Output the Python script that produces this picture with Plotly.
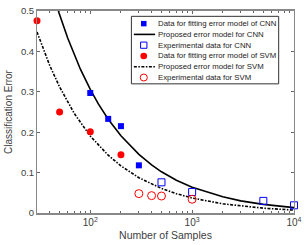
import plotly.graph_objects as go

# ---- data ----
cnn_fit_n = [100, 150, 200, 300]
cnn_fit_err = [0.297, 0.233, 0.215, 0.118]

cnn_exp_n = [500, 1000, 5000, 10000]
cnn_exp_err = [0.076, 0.052, 0.030, 0.019]

svm_fit_n = [30, 50, 100, 200]
svm_fit_err = [0.476, 0.250, 0.201, 0.144]

svm_exp_n = [300, 400, 500, 1000]
svm_exp_err = [0.048, 0.043, 0.042, 0.034]

cnn_model_n = [48.6, 60, 80, 100, 120, 150, 200, 300, 400, 500, 700, 1000, 2000, 3000, 5000, 7000, 10000]
cnn_model_err = [0.500, 0.433, 0.356, 0.306, 0.270, 0.232, 0.191, 0.145, 0.119, 0.102, 0.081, 0.064, 0.040, 0.030, 0.0214, 0.0170, 0.0134]

svm_model_n = [30, 40, 50, 70, 100, 150, 200, 300, 500, 700, 1000, 2000, 5000, 10000]
svm_model_err = [0.448, 0.365, 0.312, 0.2455, 0.1905, 0.143, 0.1165, 0.0873, 0.0608, 0.0479, 0.0371, 0.0227, 0.0119, 0.0072]

legend_labels = [
    "Data for fitting error model of CNN",
    "Proposed error model for CNN",
    "Experimental data for CNN",
    "Data for fitting error model of SVM",
    "Proposed error model for SVM",
    "Experimental data for SVM",
]

y_tick_vals = [0, 0.1, 0.2, 0.3, 0.4, 0.5]

BLUE = "#0000FF"
RED = "#FF0000"
FONT = "Liberation Sans, Arial, sans-serif"
DASH = "3px,1.5px,1.5px,1.5px"

fig = go.Figure()
fig.add_trace(go.Scatter(x=cnn_model_n, y=cnn_model_err, mode="lines",
                         line=dict(color="black", width=1.6), showlegend=False))
fig.add_trace(go.Scatter(x=svm_model_n, y=svm_model_err, mode="lines",
                         line=dict(color="black", width=1.6, dash=DASH), showlegend=False))
fig.add_trace(go.Scatter(x=cnn_fit_n, y=cnn_fit_err, mode="markers", cliponaxis=False,
                         marker=dict(symbol="square", size=6, color=BLUE), showlegend=False))
fig.add_trace(go.Scatter(x=cnn_exp_n, y=cnn_exp_err, mode="markers", cliponaxis=False,
                         marker=dict(symbol="square-open", size=7, color=BLUE, line=dict(width=1)),
                         showlegend=False))
fig.add_trace(go.Scatter(x=svm_fit_n, y=svm_fit_err, mode="markers", cliponaxis=False,
                         marker=dict(symbol="circle", size=7, color=RED), showlegend=False))
fig.add_trace(go.Scatter(x=svm_exp_n, y=svm_exp_err, mode="markers", cliponaxis=False,
                         marker=dict(symbol="circle-open", size=8, color=RED, line=dict(width=1)),
                         showlegend=False))

# ---- custom compact legend (MATLAB style) ----
L, R, T, B = 37, 297, 5, 213
W, H = R - L, B - T


def px(x):
    return (x - L) / W


def py(y):
    return (B - y) / H


shapes = [dict(type="rect", xref="paper", yref="paper",
               x0=px(132.5), x1=px(281.5), y0=py(80), y1=py(10.5),
               line=dict(color="#333333", width=1), fillcolor="white", layer="above")]
annotations = []
row0, dy = 18, 11.1
sym_x = 145
for i, lab in enumerate(legend_labels):
    yc = row0 + dy * i
    annotations.append(dict(x=px(157.5), y=py(yc), xref="paper", yref="paper",
                            text=lab, showarrow=False, xanchor="left", yanchor="middle",
                            font=dict(family=FONT, size=7.8, color="#222222")))
    if i == 0:
        shapes.append(dict(type="rect", xref="paper", yref="paper", layer="above",
                           x0=px(sym_x - 2.8), x1=px(sym_x + 2.8), y0=py(yc + 2.8), y1=py(yc - 2.8),
                           fillcolor=BLUE, line=dict(width=0)))
    elif i == 2:
        shapes.append(dict(type="rect", xref="paper", yref="paper", layer="above",
                           x0=px(sym_x - 3.2), x1=px(sym_x + 3.2), y0=py(yc + 3.2), y1=py(yc - 3.2),
                           fillcolor="rgba(0,0,0,0)", line=dict(color=BLUE, width=1)))
    elif i == 3:
        shapes.append(dict(type="circle", xref="paper", yref="paper", layer="above",
                           x0=px(sym_x - 3.4), x1=px(sym_x + 3.4), y0=py(yc + 3.4), y1=py(yc - 3.4),
                           fillcolor=RED, line=dict(width=0)))
    elif i == 5:
        shapes.append(dict(type="circle", xref="paper", yref="paper", layer="above",
                           x0=px(sym_x - 3.6), x1=px(sym_x + 3.6), y0=py(yc + 3.6), y1=py(yc - 3.6),
                           fillcolor="rgba(0,0,0,0)", line=dict(color=RED, width=1)))
    else:
        shapes.append(dict(type="line", xref="paper", yref="paper", layer="above",
                           x0=px(135), x1=px(156.5), y0=py(yc), y1=py(yc),
                           line=dict(color="black", width=1.6,
                                     dash="solid" if i == 1 else DASH)))

fig.update_layout(
    width=307, height=245,
    margin=dict(l=L, r=307 - R, t=T, b=245 - B),
    paper_bgcolor="white", plot_bgcolor="white",
    font=dict(family=FONT, color="#404040"),
    showlegend=False,
    shapes=shapes, annotations=annotations,
)
fig.update_xaxes(
    type="log", range=[1.477, 4.0],
    tickmode="linear", tick0=0, dtick=1, exponentformat="power",
    ticks="inside", ticklen=3, tickcolor="#666666",
    tickfont=dict(size=8, color="#404040"),
    showline=True, linecolor="#888888", linewidth=1.5, mirror="ticks",
    showgrid=False, zeroline=False,
    minor=dict(ticks="inside", ticklen=2, tickcolor="#666666", showgrid=False),
    title=dict(text="Number of Samples", font=dict(size=10.5, color="#404040"), standoff=4),
)
fig.update_yaxes(
    range=[0, 0.5], tickvals=y_tick_vals,
    ticks="inside", ticklen=3, tickcolor="#666666",
    tickfont=dict(size=9.5, color="#404040"),
    showline=True, linecolor="#888888", linewidth=1, mirror="ticks",
    showgrid=False, zeroline=False,
    title=dict(text="Classification Error", font=dict(size=10, color="#404040"), standoff=6),
)

fig.write_html("out.html", config={"displayModeBar": False},
               post_script="document.body.style.margin='0px';")
